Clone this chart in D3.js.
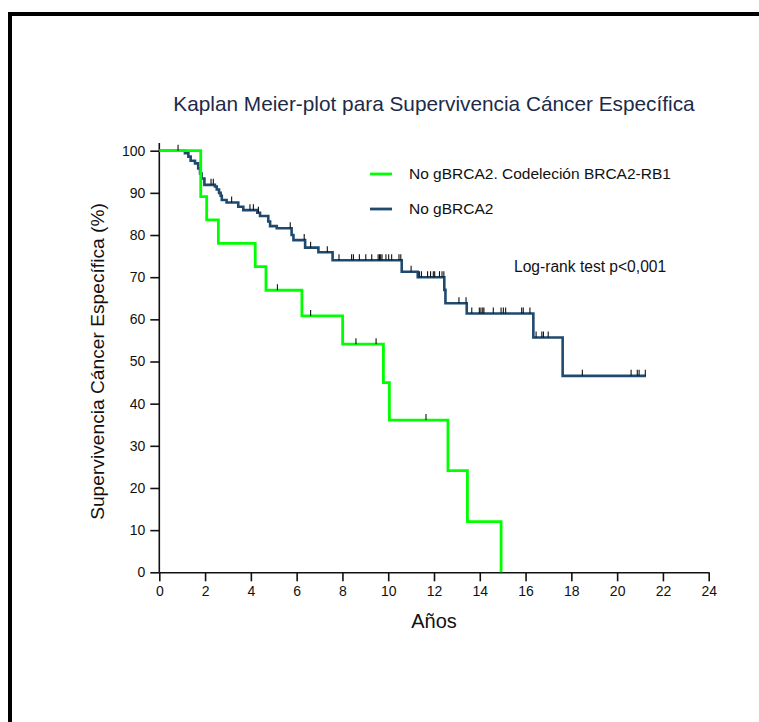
<!DOCTYPE html>
<html><head><meta charset="utf-8">
<script src="https://cdn.jsdelivr.net/npm/d3@7"></script>
<style>body{margin:0;background:#fff}svg{display:block}text{font-family:"Liberation Sans",Arial,Helvetica,sans-serif}</style>
</head><body><svg id="c" width="759" height="722"></svg>
<script>
// ---- data ----
const seriesNames = ["No gBRCA2. Codeleción BRCA2-RB1", "No gBRCA2"];
const greenTimes = [0, 1.81, 2.07, 2.58, 4.19, 4.66, 6.23, 8.01, 9.79, 10.05, 12.61, 13.46, 14.93];
const greenSurv  = [100, 89.1, 83.6, 78.0, 72.5, 66.9, 60.8, 54.1, 45.0, 36.1, 24.1, 12.0, 0];
const greenEnd = 14.93;
const greenCensor = [5.16, 6.61, 8.59, 9.47, 11.65];

const navyTimes = [0, 1.12, 1.27, 1.37, 1.56, 1.70, 1.78, 1.85, 1.97, 2.43, 2.51, 2.61, 2.68, 2.73, 2.94, 3.45, 3.67, 4.28, 4.40, 4.76, 4.84, 5.13, 5.78, 5.86, 6.37, 6.95, 7.57, 10.59, 11.29, 12.45, 12.50, 13.43, 16.34, 17.62];
const navySurv  = [100, 99.4, 98.6, 97.6, 97.0, 95.8, 94.6, 93.4, 91.9, 91.5, 90.8, 90.0, 89.3, 88.3, 87.7, 86.7, 85.9, 85.3, 84.5, 83.2, 82.1, 81.6, 80.0, 78.8, 77.0, 75.9, 74.0, 71.3, 70.0, 67.0, 63.8, 61.4, 55.7, 46.6];
const navyEnd = 21.26;
const navyCensor = [0.82, 2.26, 2.36, 3.16, 3.96, 4.11, 4.33, 5.72, 6.33, 6.61, 7.34, 7.85, 8.40, 8.48, 8.74, 9.02, 9.28, 9.56, 9.62, 9.67, 9.73, 9.90, 10.02, 10.15, 10.47, 10.55, 11.0, 11.36, 11.45, 11.72, 11.85, 11.97, 12.03, 12.24, 12.35, 12.43, 13.09, 13.40, 13.65, 13.98, 14.05, 14.13, 14.18, 14.59, 14.93, 15.03, 15.13, 15.83, 15.90, 16.19, 16.46, 16.71, 16.78, 16.99, 18.48, 20.61, 20.88, 20.96, 21.23];

const xTicks = [0,2,4,6,8,10,12,14,16,18,20,22,24];
const yTicks = [0,10,20,30,40,50,60,70,80,90,100];
const titleText = "Kaplan Meier-plot para Supervivencia Cáncer Específica";
const xLabel = "Años";
const yLabel = "Supervivencia Cáncer Específica (%)";
const pText = "Log-rank test p<0,001";

// ---- drawing ----
const svg = d3.select("#c");
svg.append("rect").attr("x",10).attr("y",14).attr("width",900).attr("height",900)
  .attr("fill","none").attr("stroke","#000").attr("stroke-width",4);

const x = d3.scaleLinear().domain([0,24]).range([159.3,708.7]);
const y = d3.scaleLinear().domain([0,100]).range([572.3,150.7]);

const g = svg.append("g");
// axes
const xAxis = g.append("g").attr("transform",`translate(0,${y(0)})`)
  .call(d3.axisBottom(x).tickValues(xTicks).tickSize(9).tickPadding(5).tickSizeOuter(0));
const yAxis = g.append("g").attr("transform",`translate(${x(0)},0)`)
  .call(d3.axisLeft(y).tickValues(yTicks).tickSize(9).tickPadding(5).tickSizeOuter(0));
[xAxis,yAxis].forEach(a=>{
  a.select(".domain").attr("stroke","#111").attr("stroke-width",1.6);
  a.selectAll(".tick line").attr("stroke","#111").attr("stroke-width",1.6);
  a.selectAll(".tick text").attr("font-size",14).attr("fill","#111")
   .attr("font-family","'Liberation Sans',Arial,sans-serif");
});
yAxis.select(".domain").attr("d",`M0,${y(0)}V${y(101.8)}`);

function stepPath(times, surv, end){
  const pts=[];
  for(let i=0;i<times.length;i++){
    if(i>0) pts.push([times[i], surv[i-1]]);
    pts.push([times[i], surv[i]]);
  }
  if(times[times.length-1] < end) pts.push([end, surv[surv.length-1]]);
  return d3.line().x(d=>x(d[0])).y(d=>y(d[1]))(pts);
}
function survAt(times, surv, t){
  let s=surv[0];
  for(let i=0;i<times.length;i++){ if(times[i]<=t) s=surv[i]; }
  return s;
}

// navy curve
g.append("path").attr("d",stepPath(navyTimes,navySurv,navyEnd))
  .attr("fill","none").attr("stroke","#1f4a70").attr("stroke-width",2.6);
// green curve
g.append("path").attr("d",stepPath(greenTimes,greenSurv,greenEnd))
  .attr("fill","none").attr("stroke","#00ff00").attr("stroke-width",2.8);

// censor marks
function censors(list,times,surv){
  g.append("g").selectAll("line").data(list).join("line")
    .attr("x1",d=>x(d)).attr("x2",d=>x(d))
    .attr("y1",d=>y(survAt(times,surv,d))-6).attr("y2",d=>y(survAt(times,surv,d)))
    .attr("stroke","#111").attr("stroke-width",1.1);
}
censors(navyCensor,navyTimes,navySurv);
censors(greenCensor,greenTimes,greenSurv);

// title
svg.append("text").attr("x",434).attr("y",111).attr("text-anchor","middle")
  .attr("font-size",20.8).attr("fill","#1d2a48").text(titleText);
// axis labels
svg.append("text").attr("x",434).attr("y",628).attr("text-anchor","middle")
  .attr("font-size",20).attr("fill","#111").text(xLabel);
svg.append("text").attr("transform",`translate(104,${(y(0)+y(100))/2}) rotate(-90)`)
  .attr("text-anchor","middle").attr("font-size",19.2).attr("fill","#111").text(yLabel);

// legend
const legColors = ["#00ff00","#1f4a70"];
const leg = svg.append("g");
seriesNames.forEach((n,i)=>{
  const yy = 174 + i*35;
  leg.append("line").attr("x1",370).attr("x2",392).attr("y1",yy).attr("y2",yy)
    .attr("stroke",legColors[i]).attr("stroke-width",2.8);
  leg.append("text").attr("x",409).attr("y",yy+5).attr("font-size",15.5).attr("fill","#111").text(n);
});
svg.append("text").attr("x",514).attr("y",272).attr("font-size",15.6).attr("fill","#111").text(pText);
</script></body></html>
